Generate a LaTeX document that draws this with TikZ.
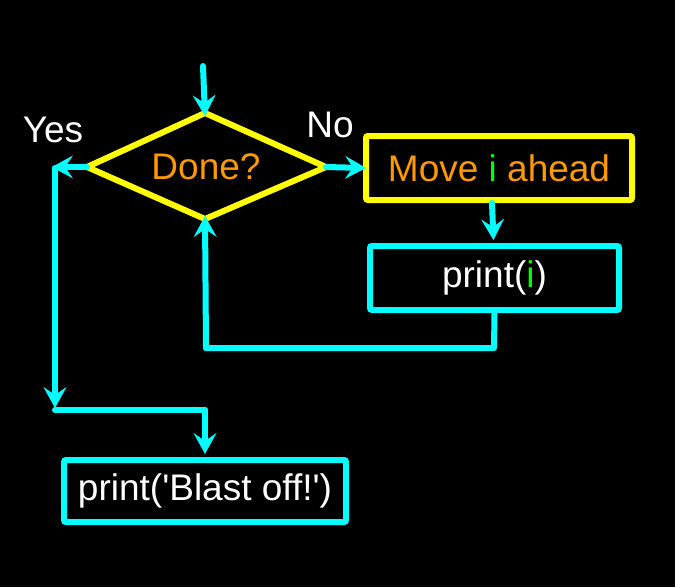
\documentclass[tikz,border=0pt]{standalone}
\usepackage{fontspec}
\setmainfont{Liberation Sans}
\usetikzlibrary{arrows.meta}
\definecolor{cy}{HTML}{00FFFF}
\definecolor{yl}{HTML}{FFFF00}
\definecolor{org}{HTML}{FF9900}
\definecolor{grn}{HTML}{00FF00}
\tikzset{
  flow/.style={draw=cy, line width=6pt, line cap=round, line join=round},
  arr/.style={flow, -{Stealth[length=21pt 0 0,width=23pt 0 0,inset=8pt 0 0,line width=1pt]}},
  cbox/.style={draw=cy, line width=6pt, rounded corners=2pt, inner sep=0pt, text=white},
  ybox/.style={draw=yl, line width=6pt, rounded corners=2pt, inner sep=0pt, text=org},
  lbl/.style={text=white, inner sep=0pt},
}
\begin{document}
\begin{tikzpicture}[x=1pt,y=-1pt,font=\fontsize{37}{44}\selectfont]
\fill[black] (0,0) rectangle (675,587);
\useasboundingbox (0,0) rectangle (675,587);
% decision
\coordinate (dt) at (205,113);
\coordinate (db) at (205,219);
\coordinate (dl) at (87,167);
\coordinate (dr) at (326,167);
\draw[yl, line width=6pt, line join=round] (dt) -- (dr) -- (db) -- (dl) -- cycle;
\node[text=org, inner sep=0pt] (done) at (206,167) {Done?};
\node[ybox, minimum width=266pt, minimum height=64pt] (move) at (499,168) {Move \textcolor{grn}{i} ahead};
\node[cbox, minimum width=249pt, minimum height=64pt] (printi) at (494.5,278) {print(\textcolor{grn}{i})};
\node[cbox, minimum width=282pt, minimum height=62pt] (blast) at (205,491) {print(\textquotesingle Blast off!\textquotesingle)};
\node[lbl] (yes) at (53,130) {Yes};
\node[lbl] (no) at (330,125) {No};
% coordinates
\coordinate (start) at (203,66);
\coordinate (yesend) at (52,167);
\coordinate (ytop) at (55,168);
\coordinate (ybot) at (55,408);
\coordinate (yleft) at (55,410);
\coordinate (yright) at (205,410);
\coordinate (pb) at (494,348);
\coordinate (lb) at (206,348);
% connectors
\draw[arr] (start) -- ([yshift=-3pt]dt);
\draw[arr] (dl) -- (yesend);
\draw[arr] (ytop) -- (ybot);
\draw[flow] (yleft) -- (yright);
\draw[arr] (yright) -- ([yshift=3pt]blast.north);
\draw[arr] (dr) -- ([xshift=3pt]move.west);
\draw[arr] ([xshift=-7pt]move.south) -- ([xshift=-1pt,yshift=3pt]printi.north);
\draw[flow] (printi.south) -- (pb) -- (lb);
\draw[arr] (lb) -- ([yshift=3pt]db);
\end{tikzpicture}
\end{document}
